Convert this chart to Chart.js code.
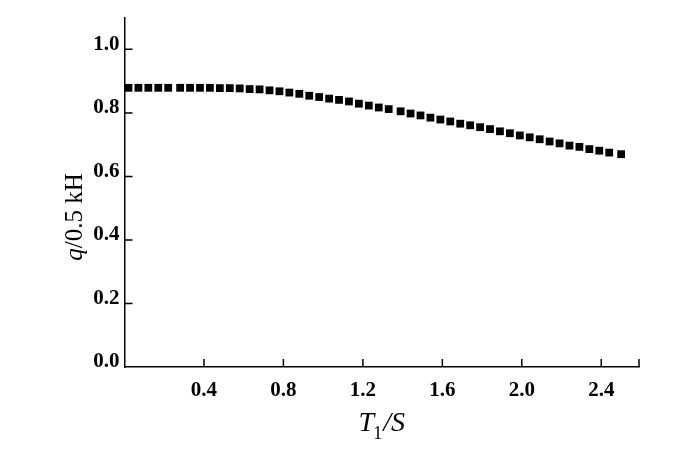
<!DOCTYPE html>
<html>
<head>
<meta charset="utf-8">
<script src="https://cdn.jsdelivr.net/npm/chart.js@4/dist/chart.umd.min.js"></script>
<style>
    body { margin: 0; background: #fff; }
</style>
</head>
<body>
<canvas id="myChart" width="700" height="453"></canvas>
<script>
// T1 (s) and q / 0.5 kH
var periods = [0.02, 0.07, 0.12, 0.17, 0.22, 0.28, 0.33, 0.38, 0.43, 0.48,
    0.53, 0.58, 0.63, 0.68, 0.73, 0.78, 0.83, 0.88, 0.93, 0.98,
    1.03, 1.08, 1.13, 1.18, 1.23, 1.28, 1.33, 1.39, 1.44, 1.49,
    1.54, 1.59, 1.64, 1.69, 1.74, 1.79, 1.84, 1.89, 1.94, 1.99,
    2.04, 2.09, 2.14, 2.19, 2.24, 2.29, 2.34, 2.39, 2.44, 2.50];
var ratios = [0.879, 0.879, 0.879, 0.879, 0.879, 0.879, 0.879, 0.879, 0.879, 0.878,
    0.878, 0.877, 0.875, 0.874, 0.871, 0.868, 0.864, 0.860, 0.854, 0.850,
    0.845, 0.841, 0.836, 0.829, 0.823, 0.817, 0.812, 0.805, 0.798, 0.792,
    0.785, 0.779, 0.773, 0.766, 0.761, 0.755, 0.749, 0.742, 0.736, 0.729,
    0.723, 0.717, 0.710, 0.704, 0.697, 0.693, 0.686, 0.681, 0.675, 0.670];
var xTicks = [0.4, 0.8, 1.2, 1.6, 2.0, 2.4];
var yTicks = [0.0, 0.2, 0.4, 0.6, 0.8, 1.0];
var xMax = 2.59;
var yMax = 1.1;

var serif = "'Liberation Serif', 'DejaVu Serif', serif";

// inward tick marks and the two axis titles
var axisDecor = {
    id: 'axisDecor',
    afterDraw: function (chart) {
        var ctx = chart.ctx;
        var xs = chart.scales.x;
        var ys = chart.scales.y;
        ctx.save();
        ctx.strokeStyle = '#000';
        ctx.lineWidth = 1.5;
        ctx.beginPath();
        xs.ticks.forEach(function (t) {
            var px = xs.getPixelForValue(t.value);
            ctx.moveTo(px, xs.top);
            ctx.lineTo(px, xs.top - 8);
        });
        ys.ticks.forEach(function (t) {
            if (t.value === 0) return;
            var py = ys.getPixelForValue(t.value);
            ctx.moveTo(ys.right, py);
            ctx.lineTo(ys.right + 8, py);
        });
        ctx.stroke();

        ctx.fillStyle = '#000';
        ctx.textBaseline = 'alphabetic';
        ctx.textAlign = 'left';

        // x title: T1/S
        var big = 'italic 28px ' + serif;
        var sub = '18px ' + serif;
        ctx.font = big;
        var wT = ctx.measureText('T').width;
        var wS = ctx.measureText('/S').width;
        ctx.font = sub;
        var w1 = ctx.measureText('1').width;
        var cx = (chart.chartArea.left + chart.chartArea.right) / 2;
        var sx = cx - (wT + w1 + wS) / 2;
        var base = 431;
        ctx.font = big;
        ctx.fillText('T', sx, base);
        ctx.font = sub;
        ctx.fillText('1', sx + wT - 1, base + 8);
        ctx.font = big;
        ctx.fillText('/S', sx + wT + w1, base);

        // y title: q/0.5 kH
        ctx.translate(82, 217);
        ctx.rotate(-Math.PI / 2);
        var fq = 'italic 25px ' + serif;
        var fr = '25px ' + serif;
        ctx.font = fq;
        var wq = ctx.measureText('q').width;
        ctx.font = fr;
        var wr = ctx.measureText('/0.5 kH').width;
        var start = -(wq + wr) / 2;
        ctx.font = fq;
        ctx.fillText('q', start, 0);
        ctx.font = fr;
        ctx.fillText('/0.5 kH', start + wq, 0);
        ctx.restore();
    }
};

var points = periods.map(function (p, i) {
    return { x: p, y: ratios[i] };
});

var ctx = document.getElementById('myChart');
var myChart = new Chart(ctx, {
    type: 'scatter',
    data: {
        datasets: [
            {
                data: points,
                pointStyle: 'rect',
                pointRadius: 5.5,
                pointHoverRadius: 5.5,
                backgroundColor: '#000',
                borderWidth: 0,
                clip: false
            }
        ]
    },
    options: {
        responsive: false,
        animation: false,
        events: [],
        layout: {
            padding: { top: 15, right: 61, left: 0, bottom: 0 }
        },
        plugins: {
            legend: { display: false },
            tooltip: { enabled: false }
        },
        scales: {
            x: {
                type: 'linear',
                min: 0,
                max: xMax,
                afterBuildTicks: function (scale) {
                    scale.ticks = xTicks.map(function (v) { return { value: v }; });
                    scale.ticks.push({ value: xMax });
                },
                afterFit: function (scale) {
                    scale.height = 86;
                },
                grid: { drawOnChartArea: false, drawTicks: false },
                border: { color: '#000', width: 1.5 },
                ticks: {
                    padding: 11,
                    color: '#000',
                    autoSkip: false,
                    maxRotation: 0,
                    font: { family: serif, size: 21, weight: 'bold' },
                    callback: function (value) {
                        return xTicks.indexOf(value) >= 0 ? value.toFixed(1) : '';
                    }
                }
            },
            y: {
                type: 'linear',
                min: 0,
                max: yMax,
                afterBuildTicks: function (scale) {
                    scale.ticks = yTicks.map(function (v) { return { value: v }; });
                },
                afterFit: function (scale) {
                    scale.width = 124.5;
                },
                grid: { drawOnChartArea: false, drawTicks: false },
                border: { color: '#000', width: 1.5 },
                ticks: {
                    padding: 5,
                    labelOffset: -5,
                    color: '#000',
                    autoSkip: false,
                    font: { family: serif, size: 21, weight: 'bold' },
                    callback: function (value) {
                        return value.toFixed(1);
                    }
                }
            }
        }
    },
    plugins: [axisDecor]
});
</script>
</body>
</html>
